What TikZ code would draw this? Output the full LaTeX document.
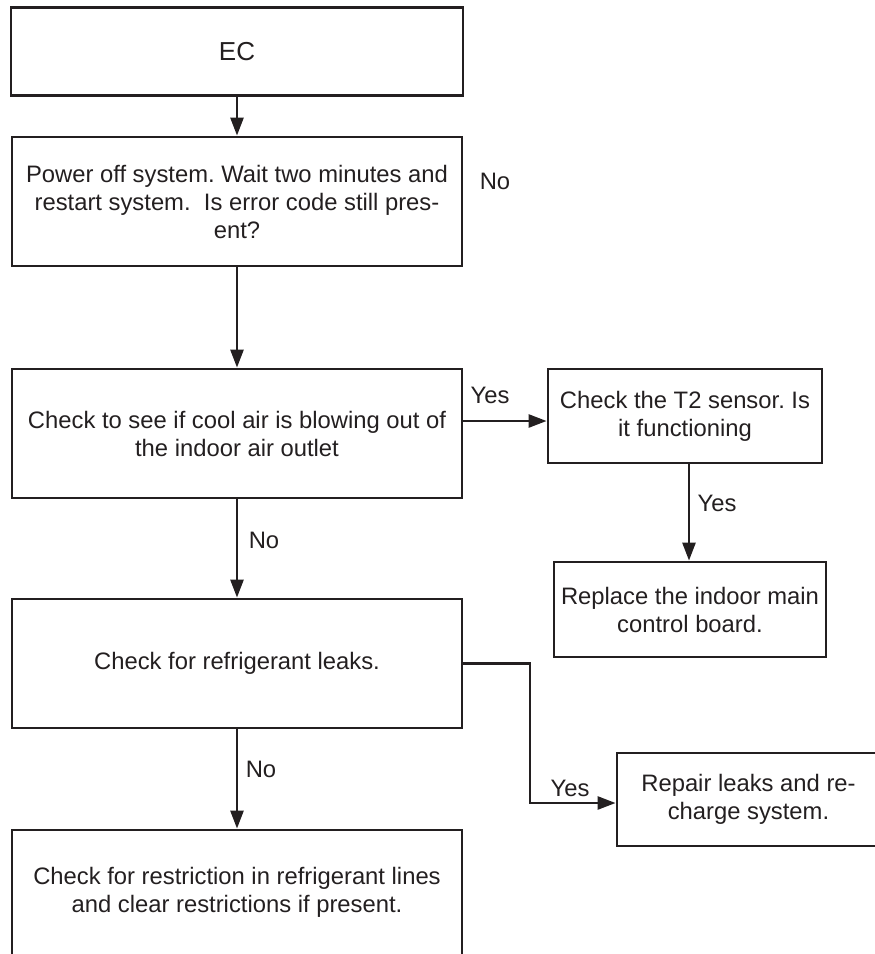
\documentclass[tikz,border=0pt]{standalone}
\usepackage{fontspec}
\setmainfont{Liberation Sans}
\usetikzlibrary{arrows.meta}
\definecolor{ink}{HTML}{231F20}
\begin{document}
\frenchspacing
\begin{tikzpicture}[x=1pt,y=-1pt,
  every node/.style={text=ink,font=\fontsize{23.8}{28}\selectfont},
  stepbox/.style={draw=ink,line width=2.8pt,inner sep=0pt,align=center},
  arr/.style={draw=ink,line width=2.6pt,-{Triangle[length=18pt,width=13pt]}},
  lbl/.style={inner sep=0pt}]
  \clip (0,0) rectangle (875,954);

  % boxes
  \node[stepbox,minimum width=452,minimum height=88,font=\fontsize{26}{30}\selectfont] (ec) at (237,51.5) {EC};
  \node[stepbox,minimum width=450,minimum height=129] (power) at (237,201.5)
    {Power off system. Wait two minutes and\\restart system.\ \ Is error code still pres-\\ent?};
  \node[stepbox,minimum width=450,minimum height=129] (cool) at (237,433.5)
    {Check to see if cool air is blowing out of\\the indoor air outlet};
  \node[stepbox,minimum width=274,minimum height=94] (t2) at (685,416)
    {Check the T2 sensor. Is\\it functioning};
  \node[stepbox,minimum width=272,minimum height=95] (replace) at (690,609.5)
    {Replace the indoor main\\control board.};
  \node[stepbox,minimum width=450,minimum height=129] (leaks) at (237,663.5)
    {Check for refrigerant leaks.};
  \node[stepbox,minimum width=263,minimum height=93] (repair) at (748.5,799.5)
    {Repair leaks and re-\\charge system.};
  \node[stepbox,minimum width=450,minimum height=129,text depth=10pt] (restrict) at (237,894.5)
    {Check for restriction in refrigerant lines\\and clear restrictions if present.};

  % labels
  \node[lbl] (noA) at (495,181) {No};
  \node[lbl] (yesA) at (490,395) {Yes};
  \node[lbl] (yesB) at (717,503) {Yes};
  \node[lbl] (noB) at (264,540) {No};
  \node[lbl] (noC) at (261,769) {No};
  \node[lbl] (yesC) at (570,788) {Yes};

  % routing points
  \coordinate (rowA) at (462,421);
  \coordinate (colR) at (689,0);
  \coordinate (bend) at (530,803);

  % connectors
  \draw[arr] (ec.south) -- (power.north);
  \draw[arr] (power.south) -- (cool.north);
  \draw[arr] (cool.east |- rowA) -- (t2.west |- rowA);
  \draw[arr] (t2.south -| colR) -- (replace.north -| colR);
  \draw[arr] (cool.south) -- (leaks.north);
  \draw[arr] (leaks.east) -| (bend) -- (repair.west |- bend);
  \draw[arr] (leaks.south) -- (restrict.north);
\end{tikzpicture}
\end{document}
